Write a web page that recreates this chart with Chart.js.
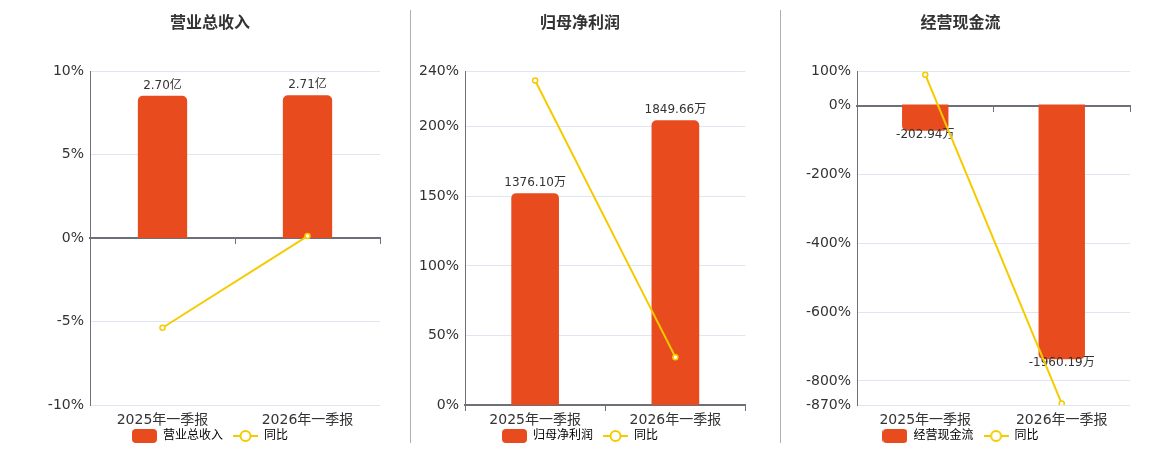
<!DOCTYPE html>
<html lang="zh-CN">
<head>
<meta charset="UTF-8">
<title>营业总收入 / 归母净利润 / 经营现金流</title>
<script src="https://cdn.jsdelivr.net/npm/chart.js"></script>
<style>
  body { margin: 0; background: #fff; }
  .wrap { position: relative; width: 1160px; height: 450px; }
  .panel { position: absolute; top: 0; height: 450px; }
  .sep { position: absolute; top: 10px; height: 433px; width: 0; border-left: 1px solid #b0b0b0; }
</style>
</head>
<body>
<div class="wrap">
  <div class="panel" style="left:10px;width:400px"><canvas id="c1"></canvas></div>
  <div class="sep" style="left:410px"></div>
  <div class="panel" style="left:410px;width:341px"><canvas id="c2"></canvas></div>
  <div class="sep" style="left:780px"></div>
  <div class="panel" style="left:781px;width:359px"><canvas id="c3"></canvas></div>
</div>

<script>
// shared categories
const periods = ['2025年一季报', '2026年一季报'];

// 营业总收入 (亿) and yoy %
const revenue = [2.70, 2.71];
const revenueYoy = [-5.37, 0.12];
const revenueTicks = [-10, -5, 0, 5, 10];

// 归母净利润 (万) and yoy %
const netProfit = [1376.10, 1849.66];
const netProfitYoy = [233.3, 34.4];
const netProfitTicks = [0, 50, 100, 150, 200, 240];

// 经营现金流 (万) and yoy %
const cashFlow = [-202.94, -1960.19];
const cashFlowYoy = [90, -866];
const cashFlowTicks = [-870, -800, -600, -400, -200, 0, 100];

const BAR = '#e84c1e';
const LINE = '#f5cb00';
const AXIS = '#6e7079';
const GRID = '#e0e6f1';
const TEXT = '#333';

Chart.defaults.font.family = '"DejaVu Sans", "Noto Sans CJK SC", sans-serif';
Chart.defaults.color = TEXT;

// legend icons
function barIcon() {
  const c = document.createElement('canvas');
  c.width = 25; c.height = 14;
  const g = c.getContext('2d');
  g.fillStyle = BAR;
  g.beginPath();
  g.roundRect(0, 0, 25, 14, 4);
  g.fill();
  return c;
}
function lineIcon() {
  const c = document.createElement('canvas');
  c.width = 25; c.height = 14;
  const g = c.getContext('2d');
  g.strokeStyle = LINE;
  g.lineWidth = 2;
  g.beginPath();
  g.moveTo(0, 7); g.lineTo(25, 7);
  g.stroke();
  g.fillStyle = '#fff';
  g.beginPath();
  g.arc(12.5, 7, 5, 0, Math.PI * 2);
  g.fill();
  g.stroke();
  return c;
}

// value labels on bars, drawn before the line dataset
const barLabels = {
  id: 'barLabels',
  afterDatasetDraw(chart, args) {
    if (args.index !== 0) return;
    const ds = chart.data.datasets[0];
    const ctx = chart.ctx;
    ctx.save();
    ctx.font = '12px "DejaVu Sans", "Noto Sans CJK SC", sans-serif';
    ctx.fillStyle = TEXT;
    ctx.textAlign = 'center';
    args.meta.data.forEach((el, i) => {
      const v = ds.data[i];
      const txt = v.toFixed(2) + ds.unit;
      if (v >= 0) {
        ctx.textBaseline = 'bottom';
        ctx.fillText(txt, el.x, el.y - 4);
      } else {
        ctx.textBaseline = 'middle';
        ctx.fillText(txt, el.x, el.y + 4);
      }
    });
    ctx.restore();
  }
};

// the legend sits tight under the category labels: pull its top edge up
const legendShift = {
  id: 'legendShift',
  afterLayout(chart) {
    const lg = chart.legend;
    if (!lg) return;
    lg.top -= 15;
  }
};

function makeChart(id, opt) {
  new Chart(document.getElementById(id), {
    data: {
      labels: periods,
      datasets: [{
        type: 'bar',
        label: opt.name,
        unit: opt.unit,
        data: opt.values,
        yAxisID: 'y1',
        xAxisID: 'x',
        backgroundColor: BAR,
        borderRadius: 5,
        borderSkipped: 'start',
        barPercentage: 0.34,
        categoryPercentage: 1,
        order: 2
      }, {
        type: 'line',
        label: '同比',
        data: opt.yoy,
        yAxisID: 'y',
        xAxisID: 'x',
        borderColor: LINE,
        borderWidth: 2,
        pointRadius: 2.5,
        pointBorderWidth: 1.5,
        pointBackgroundColor: '#fff',
        pointBorderColor: LINE,
        tension: 0,
        order: 1
      }]
    },
    options: {
      responsive: true,
      maintainAspectRatio: false,
      animation: false,
      layout: { padding: { left: opt.padL, right: opt.padR, top: 0, bottom: 0 } },
      plugins: {
        tooltip: { enabled: false },
        title: {
          display: true,
          text: opt.name,
          color: TEXT,
          font: { size: 16, weight: 'bold' },
          padding: { top: 14, bottom: 38 }
        },
        legend: {
          position: 'bottom',
          maxHeight: 15,
          labels: {
            usePointStyle: true,
            pointStyleWidth: 25,
            boxHeight: 14,
            padding: 10,
            color: TEXT,
            font: { size: 12 },
            generateLabels: () => [
              { text: opt.name, pointStyle: barIcon(), fillStyle: BAR, strokeStyle: BAR, lineWidth: 0, datasetIndex: 0 },
              { text: '同比', pointStyle: lineIcon(), fillStyle: LINE, strokeStyle: LINE, lineWidth: 0, datasetIndex: 1 }
            ]
          }
        }
      },
      scales: {
        x: {
          type: 'category',
          offset: true,
          grid: { display: false, drawTicks: false },
          border: { display: false },
          ticks: { color: TEXT, font: { size: 14 }, padding: 6.6, maxRotation: 0 }
        },
        x2: {
          type: 'category',
          position: { y: 0 },
          offset: true,
          grid: { offset: true, drawOnChartArea: false, drawTicks: true, tickLength: 5, color: AXIS },
          border: { color: AXIS, width: 2 },
          ticks: { display: false }
        },
        y: {
          position: 'left',
          min: opt.ticks[0],
          max: opt.ticks[opt.ticks.length - 1],
          afterBuildTicks: s => { s.ticks = opt.ticks.map(v => ({ value: v })); },
          afterFit: s => { s.width = opt.axisW; },
          ticks: { color: TEXT, font: { size: 14 }, padding: 6, callback: v => v + '%' },
          grid: { color: GRID, drawTicks: false },
          border: { color: AXIS, width: 1 }
        },
        y1: {
          display: false,
          min: opt.barMin,
          max: opt.barMax
        }
      }
    },
    plugins: [barLabels, legendShift]
  });
}

makeChart('c1', {
  name: '营业总收入', unit: '亿', values: revenue, yoy: revenueYoy, ticks: revenueTicks,
  barMin: -3.166, barMax: 3.166, axisW: 50, padL: 30, padR: 30
});
makeChart('c2', {
  name: '归母净利润', unit: '万', values: netProfit, yoy: netProfitYoy, ticks: netProfitTicks,
  barMin: 0, barMax: 2168, axisW: 55, padL: 0, padR: 1
});
makeChart('c3', {
  name: '经营现金流', unit: '万', values: cashFlow, yoy: cashFlowYoy, ticks: cashFlowTicks,
  barMin: -2313, barMax: 256, axisW: 66, padL: 10, padR: 10
});
</script>
</body>
</html>
